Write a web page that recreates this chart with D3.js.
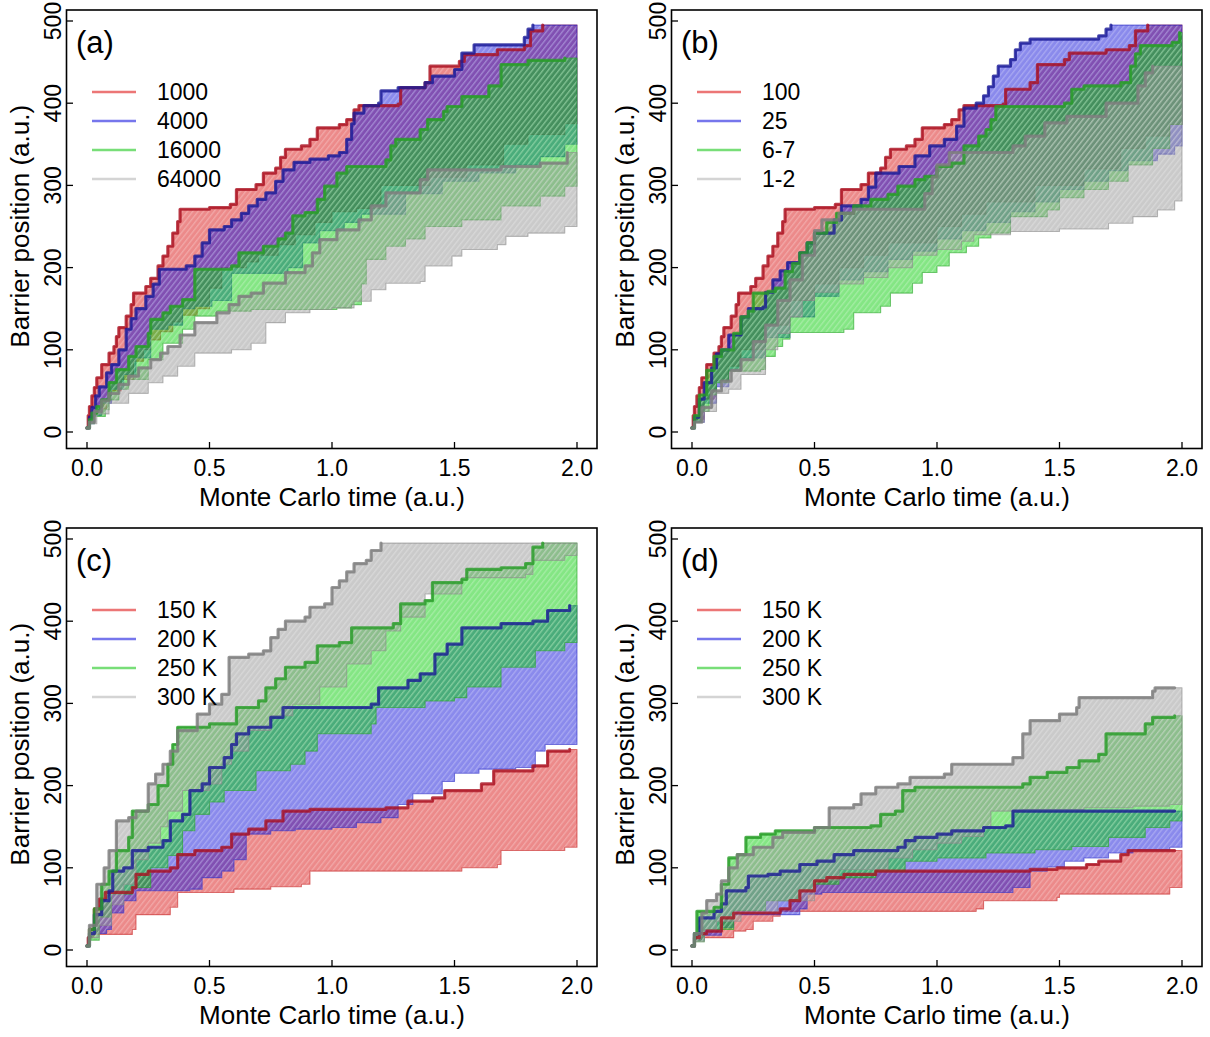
<!DOCTYPE html>
<html>
<head>
<meta charset="utf-8">
<script src="https://cdn.jsdelivr.net/npm/d3@7"></script>
<style>
  body { margin: 0; background: #fff; }
  svg { display: block; }
  text { font-family: "Liberation Sans", Arial, Helvetica, sans-serif; fill: #000; }
</style>
</head>
<body>
<svg id="chart" width="1210" height="1037"></svg>
<script>
// ---- axis ticks and labels ----
const timeTicks = [0, 0.5, 1, 1.5, 2];
const positionTicks = [0, 100, 200, 300, 400, 500];
const panelLetters = ["(a)", "(b)", "(c)", "(d)"];
const legendA = ["1000", "4000", "16000", "64000"];
const legendB = ["100", "25", "6-7", "1-2"];
const legendC = ["150 K", "200 K", "250 K", "300 K"];
const legendD = ["150 K", "200 K", "250 K", "300 K"];
const tEnd = 2.0;

// ---- envelopes: [time, position] step points (value holds until the next time) ----
// panel (a)
const aRedUpper = [[0,5],[0.005,20],[0.01,31],[0.02,44],[0.03,54],[0.04,66],[0.06,82],[0.09,96],[0.11,104],[0.12,116],[0.13,127],[0.16,141],[0.18,155],[0.19,169],[0.24,177],[0.26,187],[0.29,202],[0.31,214],[0.33,226],[0.35,242],[0.37,256],[0.38,271],[0.5,273],[0.585,277],[0.61,295],[0.69,301],[0.72,315],[0.77,321],[0.79,334],[0.81,344],[0.875,348],[0.91,356],[0.94,370],[1.03,374],[1.06,380],[1.09,392],[1.11,397],[1.27,399],[1.28,419],[1.38,425],[1.40,445],[1.52,451],[1.54,459],[1.675,465],[1.785,470],[1.81,488],[1.86,495]];
const aRedLower = [[0,5],[0.01,12],[0.03,22],[0.05,28],[0.08,40],[0.1,50],[0.14,64],[0.19,86],[0.23,100],[0.26,112],[0.3,122],[0.35,134],[0.39,142],[0.45,150],[0.5,175],[0.55,200],[0.65,207],[0.7,215],[0.78,228],[0.85,240],[0.93,255],[1.0,268],[1.1,272],[1.2,300],[1.4,310],[1.55,325],[1.7,350],[1.8,362],[1.95,375]];
const aBlueUpper = [[0,5],[0.01,18],[0.02,30],[0.035,44],[0.05,55],[0.08,72],[0.1,82],[0.13,100],[0.16,125],[0.18,138],[0.2,150],[0.24,165],[0.27,180],[0.295,198],[0.405,202],[0.44,214],[0.47,230],[0.5,246],[0.56,250],[0.59,258],[0.63,266],[0.66,275],[0.695,283],[0.73,291],[0.77,305],[0.8,319],[0.845,328],[0.91,332],[0.985,336],[1.03,340],[1.06,356],[1.08,375],[1.09,388],[1.13,397],[1.19,400],[1.2,415],[1.27,419],[1.38,425],[1.41,433],[1.5,441],[1.53,461],[1.58,471],[1.785,480],[1.8,490],[1.82,495]];
const aBlueLower = [[0,5],[0.01,10],[0.03,20],[0.06,35],[0.1,52],[0.15,70],[0.2,90],[0.26,125],[0.33,130],[0.39,150],[0.44,153],[0.51,160],[0.59,193],[0.82,200],[0.88,230],[0.95,245],[1.05,255],[1.12,265],[1.3,290],[1.45,305],[1.6,315],[1.75,325],[1.85,335],[1.95,350]];
const aGreenUpper = [[0,5],[0.01,15],[0.02,23],[0.04,31],[0.06,39],[0.09,60],[0.12,76],[0.17,92],[0.2,104],[0.25,120],[0.26,137],[0.31,145],[0.34,153],[0.39,161],[0.44,198],[0.59,202],[0.62,218],[0.72,226],[0.78,235],[0.81,242],[0.84,263],[0.89,267],[0.94,283],[0.97,299],[1.02,315],[1.06,323],[1.22,331],[1.24,348],[1.26,356],[1.36,368],[1.39,380],[1.455,390],[1.47,396],[1.53,408],[1.64,421],[1.69,447],[1.8,452],[1.95,455]];
const aGreenLower = [[0,5],[0.01,10],[0.03,19],[0.075,27],[0.09,39],[0.13,52],[0.17,64],[0.25,88],[0.31,108],[0.39,125],[0.44,141],[0.53,147],[0.67,149],[1.02,151],[1.08,155],[1.12,180],[1.14,210],[1.22,226],[1.3,235],[1.38,250],[1.53,258],[1.69,275],[1.85,287],[1.95,299]];
const aGreyUpper = [[0,5],[0.01,12],[0.03,25],[0.06,38],[0.09,47],[0.13,58],[0.17,68],[0.21,78],[0.26,88],[0.3,96],[0.33,104],[0.38,118],[0.44,133],[0.53,145],[0.58,155],[0.62,165],[0.67,169],[0.72,181],[0.81,194],[0.89,202],[0.92,218],[0.95,234],[1.02,246],[1.11,258],[1.16,275],[1.22,291],[1.36,307],[1.39,319],[1.69,323],[1.85,327],[1.96,340]];
const aGreyLower = [[0,5],[0.01,10],[0.04,22],[0.09,35],[0.17,47],[0.25,60],[0.31,68],[0.37,80],[0.44,96],[0.59,100],[0.67,108],[0.73,133],[0.81,145],[0.91,149],[1.0,151],[1.09,159],[1.16,173],[1.22,181],[1.36,183],[1.38,202],[1.49,214],[1.53,222],[1.675,228],[1.71,238],[1.8,242],[1.95,250]];

// panel (b)
const bRedUpper = [[0,5],[0.005,20],[0.01,31],[0.02,44],[0.03,54],[0.04,66],[0.06,82],[0.09,96],[0.11,104],[0.12,116],[0.13,127],[0.16,141],[0.18,155],[0.19,169],[0.24,177],[0.26,187],[0.29,202],[0.31,214],[0.33,226],[0.35,242],[0.37,256],[0.38,271],[0.5,273],[0.585,277],[0.61,295],[0.69,301],[0.72,315],[0.77,321],[0.79,334],[0.81,344],[0.875,348],[0.91,356],[0.94,370],[1.03,374],[1.06,380],[1.09,392],[1.11,397],[1.27,399],[1.28,417],[1.38,425],[1.41,447],[1.52,453],[1.54,461],[1.69,465],[1.785,470],[1.81,488],[1.86,495]];
const bRedLower = [[0,5],[0.01,15],[0.05,40],[0.1,62],[0.15,80],[0.2,100],[0.3,130],[0.4,160],[0.5,180],[0.6,200],[0.7,215],[0.8,230],[1.0,250],[1.1,265],[1.2,280],[1.4,300],[1.6,320],[1.75,345],[1.85,360],[1.95,374]];
const bBlueUpper = [[0,5],[0.01,18],[0.03,40],[0.05,60],[0.08,78],[0.1,95],[0.12,100],[0.15,118],[0.2,140],[0.23,150],[0.29,152],[0.3,170],[0.33,185],[0.36,196],[0.39,206],[0.44,218],[0.47,230],[0.5,242],[0.58,258],[0.61,275],[0.69,283],[0.72,298],[0.75,315],[0.845,323],[0.91,336],[0.97,348],[1.03,356],[1.08,372],[1.11,394],[1.16,400],[1.19,409],[1.21,420],[1.23,433],[1.25,445],[1.3,453],[1.32,465],[1.34,473],[1.38,478],[1.66,482],[1.69,490],[1.71,495]];
const bBlueLower = [[0,5],[0.01,12],[0.05,35],[0.1,55],[0.15,75],[0.2,90],[0.3,115],[0.4,140],[0.5,165],[0.6,185],[0.7,195],[0.8,210],[0.9,220],[1.0,235],[1.1,245],[1.2,255],[1.3,268],[1.4,280],[1.5,295],[1.6,305],[1.7,318],[1.78,330],[1.9,338],[1.97,348]];
const bGreenUpper = [[0,5],[0.01,20],[0.03,45],[0.06,75],[0.09,92],[0.12,100],[0.17,120],[0.2,140],[0.23,147],[0.25,169],[0.31,171],[0.34,175],[0.38,195],[0.41,205],[0.44,218],[0.47,230],[0.5,242],[0.55,255],[0.59,266],[0.66,275],[0.73,283],[0.8,289],[0.84,299],[0.91,307],[0.95,311],[1.0,323],[1.06,327],[1.11,348],[1.17,360],[1.2,368],[1.22,380],[1.24,396],[1.52,400],[1.55,417],[1.6,421],[1.75,425],[1.79,445],[1.81,460],[1.83,470],[1.96,474],[1.99,486]];
const bGreenLower = [[0,5],[0.01,12],[0.04,25],[0.07,45],[0.1,60],[0.15,74],[0.28,76],[0.3,92],[0.34,104],[0.37,113],[0.4,121],[0.62,125],[0.66,145],[0.77,153],[0.81,169],[0.9,181],[0.94,194],[1.0,202],[1.05,218],[1.12,226],[1.17,236],[1.22,242],[1.3,262],[1.45,270],[1.5,285],[1.6,295],[1.7,305],[1.78,325],[1.88,345],[1.95,374]];
const bGreyUpper = [[0,5],[0.01,12],[0.04,30],[0.08,50],[0.12,62],[0.16,75],[0.2,88],[0.25,110],[0.3,130],[0.35,160],[0.4,185],[0.45,215],[0.5,245],[0.53,258],[0.6,266],[0.66,271],[0.95,290],[0.98,310],[1.0,325],[1.05,340],[1.31,348],[1.36,360],[1.44,376],[1.53,384],[1.69,400],[1.82,421],[1.85,437],[1.88,445]];
const bGreyLower = [[0,5],[0.01,12],[0.05,25],[0.1,47],[0.15,52],[0.2,70],[0.3,100],[0.35,120],[0.4,140],[0.45,160],[0.5,170],[0.6,180],[0.7,188],[0.8,200],[0.9,215],[1.0,222],[1.1,232],[1.15,240],[1.3,244],[1.5,247],[1.7,254],[1.8,262],[1.9,270],[1.97,281]];

// panel (c)
const cRedUpper = [[0,5],[0.005,15],[0.01,25],[0.03,50],[0.05,62],[0.075,70],[0.185,76],[0.2,92],[0.25,96],[0.34,100],[0.37,116],[0.44,121],[0.55,125],[0.59,141],[0.66,147],[0.73,157],[0.8,169],[0.91,171],[1.22,173],[1.31,181],[1.41,185],[1.46,194],[1.61,202],[1.66,218],[1.82,224],[1.88,242],[1.97,244]];
const cRedLower = [[0,5],[0.01,15],[0.03,19],[0.185,25],[0.2,43],[0.34,52],[0.37,70],[0.6,74],[0.75,77],[0.875,80],[0.91,96],[1.53,100],[1.675,104],[1.69,121],[1.95,125]];
const cBlueUpper = [[0,5],[0.01,20],[0.03,43],[0.06,60],[0.09,72],[0.105,96],[0.15,100],[0.185,121],[0.25,125],[0.31,133],[0.34,157],[0.39,165],[0.42,194],[0.47,202],[0.5,222],[0.56,234],[0.59,250],[0.61,263],[0.66,271],[0.75,283],[0.8,295],[1.16,299],[1.19,319],[1.31,328],[1.36,336],[1.42,360],[1.47,372],[1.53,392],[1.69,397],[1.82,400],[1.88,413],[1.97,419]];
const cBlueLower = [[0,5],[0.01,15],[0.02,20],[0.08,25],[0.1,45],[0.15,60],[0.2,72],[0.42,74],[0.47,88],[0.55,96],[0.6,110],[0.65,141],[0.75,145],[0.85,147],[1.0,149],[1.1,155],[1.2,161],[1.27,177],[1.33,190],[1.45,205],[1.5,215],[1.6,220],[1.75,222],[1.83,242],[1.87,250]];
const cGreenUpper = [[0,5],[0.01,25],[0.03,50],[0.06,80],[0.09,96],[0.12,121],[0.17,137],[0.185,169],[0.25,177],[0.29,200],[0.33,226],[0.35,250],[0.37,271],[0.5,275],[0.61,295],[0.7,303],[0.73,319],[0.77,330],[0.81,344],[0.89,350],[0.94,370],[1.03,374],[1.08,392],[1.25,397],[1.28,421],[1.38,425],[1.41,447],[1.53,451],[1.55,463],[1.69,465],[1.79,470],[1.82,490],[1.86,495]];
const cGreenLower = [[0,5],[0.01,12],[0.05,40],[0.1,68],[0.185,76],[0.26,100],[0.33,115],[0.39,145],[0.44,165],[0.5,180],[0.56,194],[0.69,218],[0.83,226],[0.89,242],[0.94,263],[1.16,275],[1.18,295],[1.38,303],[1.5,307],[1.55,320],[1.69,344],[1.83,364],[1.95,374]];
const cGreyUpper = [[0,5],[0.01,30],[0.04,80],[0.07,100],[0.09,121],[0.12,157],[0.17,161],[0.2,169],[0.25,202],[0.28,214],[0.31,226],[0.34,242],[0.37,267],[0.45,287],[0.5,299],[0.55,311],[0.58,356],[0.66,360],[0.72,364],[0.75,380],[0.78,390],[0.81,400],[0.89,405],[0.91,417],[0.97,421],[1.0,441],[1.03,449],[1.06,460],[1.09,470],[1.14,474],[1.16,486],[1.2,495]];
const cGreyLower = [[0,5],[0.01,15],[0.05,30],[0.1,55],[0.15,80],[0.2,110],[0.25,130],[0.3,150],[0.33,169],[0.39,194],[0.5,202],[0.55,226],[0.59,242],[0.66,267],[0.75,285],[0.84,299],[0.95,320],[1.06,348],[1.16,364],[1.22,388],[1.28,405],[1.38,433],[1.53,453],[1.79,457],[1.82,474],[1.95,480]];

// panel (d)
const dRedUpper = [[0,5],[0.01,15],[0.03,20],[0.06,23],[0.12,39],[0.17,45],[0.36,50],[0.4,60],[0.44,72],[0.5,84],[0.55,88],[0.62,92],[0.75,96],[1.38,98],[1.49,100],[1.61,104],[1.66,108],[1.75,116],[1.78,121],[1.97,121]];
const dRedLower = [[0,5],[0.01,12],[0.04,15],[0.17,23],[0.22,25],[0.25,35],[0.33,41],[0.36,47],[1.16,50],[1.19,60],[1.49,64],[1.5,68],[1.95,76]];
const dBlueUpper = [[0,5],[0.01,20],[0.03,39],[0.09,47],[0.12,56],[0.14,72],[0.22,76],[0.23,90],[0.31,92],[0.36,96],[0.44,104],[0.51,108],[0.58,116],[0.66,121],[0.84,125],[0.87,133],[0.91,137],[1.0,141],[1.06,145],[1.19,149],[1.28,151],[1.31,169],[1.97,169]];
const dBlueLower = [[0,5],[0.01,12],[0.05,18],[0.12,27],[0.17,43],[0.44,50],[0.47,68],[0.53,70],[1.31,76],[1.38,96],[1.45,101],[1.52,108],[1.6,112],[1.7,118],[1.8,122],[1.95,125]];
const dGreenUpper = [[0,5],[0.01,20],[0.02,47],[0.09,52],[0.12,80],[0.15,112],[0.185,116],[0.22,137],[0.28,141],[0.34,145],[0.5,149],[0.73,151],[0.77,165],[0.83,169],[0.86,194],[0.91,198],[1.35,202],[1.38,210],[1.45,216],[1.53,222],[1.58,230],[1.66,238],[1.69,263],[1.85,275],[1.88,283],[1.97,285]];
const dGreenLower = [[0,5],[0.01,10],[0.05,25],[0.17,48],[0.3,60],[0.44,72],[0.5,80],[0.6,88],[0.75,96],[0.87,108],[1.0,112],[1.2,118],[1.4,122],[1.55,126],[1.7,137],[1.85,149],[1.95,157]];
const dGreyUpper = [[0,5],[0.01,20],[0.04,45],[0.06,60],[0.1,68],[0.12,84],[0.15,100],[0.185,116],[0.25,125],[0.33,137],[0.37,143],[0.5,149],[0.56,173],[0.66,177],[0.69,190],[0.75,198],[0.84,202],[0.89,210],[1.03,214],[1.06,226],[1.31,234],[1.35,263],[1.38,279],[1.5,287],[1.57,295],[1.58,307],[1.88,315],[1.89,319],[1.97,319]];
const dGreyLower = [[0,5],[0.01,10],[0.05,25],[0.1,35],[0.2,45],[0.35,60],[0.5,85],[0.6,98],[0.8,112],[0.9,122],[1.0,130],[1.1,138],[1.19,150],[1.22,169],[1.35,171],[1.6,173],[1.8,175],[1.95,177]];

// ---- styles for the four series (drawn in this order) ----
const seriesStyle = [
  { id: "red",   fill: "rgb(218,22,22)",   line: "rgb(170,18,34)",   edge: "rgb(200,40,40)",   key: "rgb(236,118,118)" },
  { id: "blue",  fill: "rgb(22,22,218)",   line: "rgb(28,28,150)",   edge: "rgb(50,50,200)",   key: "rgb(118,118,236)" },
  { id: "green", fill: "rgb(10,205,10)",   line: "rgb(40,158,40)",   edge: "rgb(40,165,40)",   key: "rgb(120,222,120)" },
  { id: "grey",  fill: "rgb(150,150,150)", line: "rgb(125,125,125)", edge: "rgb(140,140,140)", key: "rgb(212,212,212)" }
];

const panels = [
  { letter: panelLetters[0], legend: legendA, dx: 0,   dy: 0,   bands: [[aRedUpper, aRedLower], [aBlueUpper, aBlueLower], [aGreenUpper, aGreenLower], [aGreyUpper, aGreyLower]] },
  { letter: panelLetters[1], legend: legendB, dx: 605, dy: 0,   bands: [[bRedUpper, bRedLower], [bBlueUpper, bBlueLower], [bGreenUpper, bGreenLower], [bGreyUpper, bGreyLower]] },
  { letter: panelLetters[2], legend: legendC, dx: 0,   dy: 518, bands: [[cRedUpper, cRedLower], [cBlueUpper, cBlueLower], [cGreenUpper, cGreenLower], [cGreyUpper, cGreyLower]] },
  { letter: panelLetters[3], legend: legendD, dx: 605, dy: 518, bands: [[dRedUpper, dRedLower], [dBlueUpper, dBlueLower], [dGreenUpper, dGreenLower], [dGreyUpper, dGreyLower]] }
];

const svg = d3.select("#chart");

// hatched, translucent fills
const defs = svg.append("defs");
seriesStyle.forEach(s => {
  const p = defs.append("pattern")
    .attr("id", "hatch-" + s.id)
    .attr("patternUnits", "userSpaceOnUse")
    .attr("width", 4.2).attr("height", 4.2)
    .attr("patternTransform", "rotate(38)");
  p.append("rect").attr("width", 4.2).attr("height", 4.2)
    .attr("fill", s.fill).attr("fill-opacity", 0.5);
  p.append("line").attr("x1", 0.7).attr("y1", 0).attr("x2", 0.7).attr("y2", 4.2)
    .attr("stroke", "#fff").attr("stroke-opacity", 0.3).attr("stroke-width", 1.1);
});

// step points -> polyline vertices; optionally held flat to the end of the run
function stepVertices(pts, extendTo) {
  const out = [[pts[0][0], pts[0][1]]];
  for (let i = 1; i < pts.length; i++) {
    out.push([pts[i][0], pts[i - 1][1]]);
    out.push([pts[i][0], pts[i][1]]);
  }
  const last = pts[pts.length - 1];
  if (extendTo !== undefined && last[0] < extendTo) out.push([extendTo, last[1]]);
  return out;
}

// box and scale geometry inside one panel
const box = { left: 66.5, right: 597, top: 10, bottom: 448.5 };

panels.forEach((panel, pi) => {
  const g = svg.append("g").attr("transform", `translate(${panel.dx},${panel.dy})`);
  const x = d3.scaleLinear().domain([0, 2]).range([87, 577]);
  const y = d3.scaleLinear().domain([0, 500]).range([432, 21]);
  const line = d3.line().x(d => x(d[0])).y(d => y(d[1]));

  const clipId = "clip" + pi;
  g.append("clipPath").attr("id", clipId).append("rect")
    .attr("x", box.left).attr("y", box.top)
    .attr("width", box.right - box.left).attr("height", box.bottom - box.top);
  const plot = g.append("g").attr("clip-path", `url(#${clipId})`);

  // bands
  panel.bands.forEach((band, i) => {
    const s = seriesStyle[i];
    const up = stepVertices(band[0], tEnd);
    const lo = stepVertices(band[1], tEnd).reverse();
    plot.append("path")
      .attr("d", line(up.concat(lo)) + "Z")
      .attr("fill", `url(#hatch-${s.id})`)
      .attr("stroke", s.edge).attr("stroke-opacity", 0.6).attr("stroke-width", 1.1)
      .attr("stroke-linejoin", "round");
  });
  // upper envelopes
  panel.bands.forEach((band, i) => {
    const s = seriesStyle[i];
    plot.append("path")
      .attr("d", line(stepVertices(band[0])))
      .attr("fill", "none")
      .attr("stroke", s.line).attr("stroke-opacity", 0.8)
      .attr("stroke-width", 3.2).attr("stroke-linejoin", "round").attr("stroke-linecap", "round");
  });

  // frame
  g.append("rect")
    .attr("x", box.left).attr("y", box.top)
    .attr("width", box.right - box.left).attr("height", box.bottom - box.top)
    .attr("fill", "none").attr("stroke", "#000").attr("stroke-width", 1.6);

  // x axis ticks (inward) and labels
  timeTicks.forEach(t => {
    g.append("line").attr("x1", x(t)).attr("x2", x(t))
      .attr("y1", box.bottom).attr("y2", box.bottom - 6.5)
      .attr("stroke", "#000").attr("stroke-width", 1.3);
    g.append("text").attr("x", x(t)).attr("y", 476)
      .attr("text-anchor", "middle").attr("font-size", 23)
      .text(d3.format(".1f")(t));
  });
  // y axis ticks (inward) and rotated labels
  positionTicks.forEach(v => {
    g.append("line").attr("x1", box.left).attr("x2", box.left + 6.5)
      .attr("y1", y(v)).attr("y2", y(v))
      .attr("stroke", "#000").attr("stroke-width", 1.3);
    g.append("text")
      .attr("transform", `translate(61,${y(v)}) rotate(-90)`)
      .attr("text-anchor", "middle").attr("font-size", 23)
      .text(v);
  });

  // axis titles
  g.append("text").attr("x", (x(0) + x(2)) / 2).attr("y", 506)
    .attr("text-anchor", "middle").attr("font-size", 26)
    .text("Monte Carlo time (a.u.)");
  g.append("text")
    .attr("transform", `translate(29,${(box.top + box.bottom) / 2 - 3}) rotate(-90)`)
    .attr("text-anchor", "middle").attr("font-size", 26)
    .text("Barrier position (a.u.)");

  // panel letter
  g.append("text").attr("x", 76).attr("y", 53).attr("font-size", 31).text(panel.letter);

  // legend
  panel.legend.forEach((lab, i) => {
    const ly = 92 + i * 29;
    g.append("line").attr("x1", 92).attr("x2", 136).attr("y1", ly).attr("y2", ly)
      .attr("stroke", seriesStyle[i].key).attr("stroke-width", 2.6);
    g.append("text").attr("x", 157).attr("y", ly + 8).attr("font-size", 23).text(lab);
  });
});
</script>
</body>
</html>
